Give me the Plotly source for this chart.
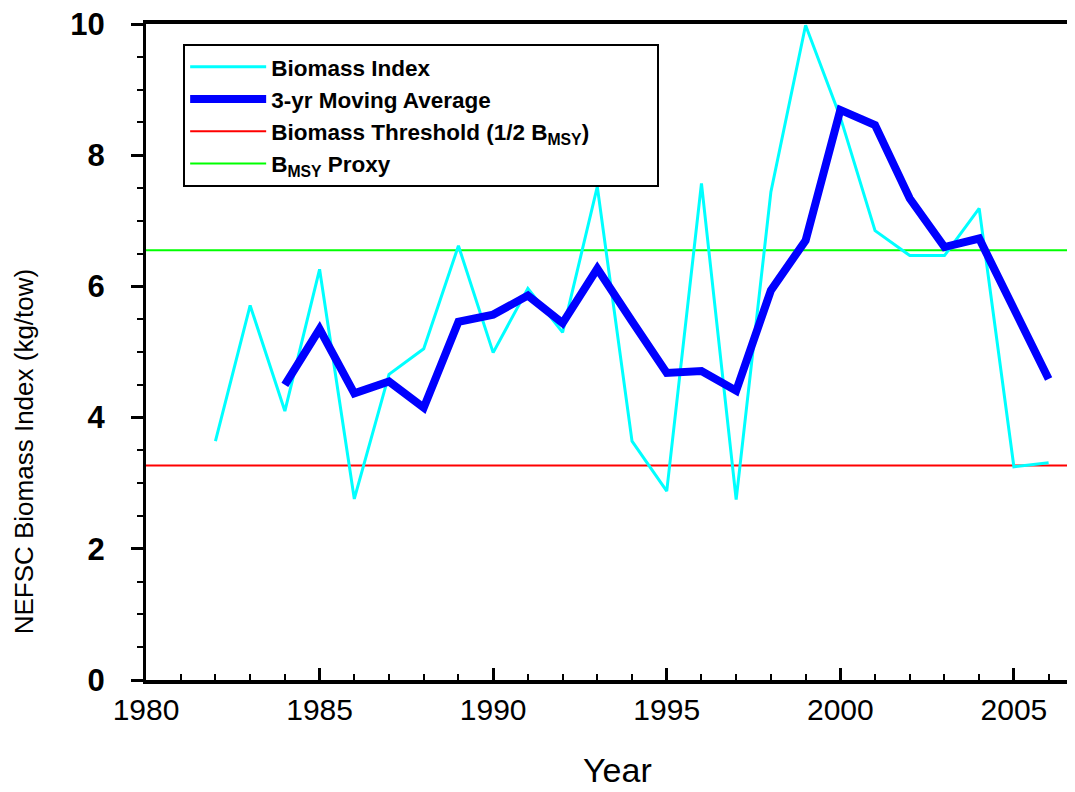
import plotly.graph_objects as go

# ---- data ----
index_years = list(range(1982, 2007))
biomass_index = [3.64, 5.71, 4.10, 6.26, 2.76, 4.66, 5.05, 6.62, 4.99, 5.97,
                 5.30, 7.52, 3.64, 2.88, 7.57, 2.75, 7.44, 9.98, 8.58, 6.85,
                 6.47, 6.47, 7.19, 3.25, 3.31]

ma_years = list(range(1984, 2007))
moving_avg = [4.50, 5.35, 4.37, 4.55, 4.15, 5.46, 5.57, 5.86, 5.44, 6.27,
              5.47, 4.68, 4.71, 4.41, 5.94, 6.70, 8.69, 8.46, 7.34, 6.60,
              6.73, 5.66, 4.59]

bmsy_proxy = 6.55
biomass_threshold = 3.27

x_range = [1980, 2006.76]
y_range = [0, 10]

FONT = "Liberation Sans, Arial, sans-serif"
PAD = "\u00a0" * 10  # widens the legend box like the reference

fig = go.Figure()

fig.add_trace(go.Scatter(
    x=x_range, y=[biomass_threshold, biomass_threshold], mode="lines",
    line=dict(color="#FF0000", width=2),
    name="Biomass Threshold (1/2 B<sub>MSY</sub>)" + PAD, legendrank=3))
fig.add_trace(go.Scatter(
    x=x_range, y=[bmsy_proxy, bmsy_proxy], mode="lines",
    line=dict(color="#00FF00", width=2),
    name="B<sub>MSY</sub> Proxy", legendrank=4))
fig.add_trace(go.Scatter(
    x=index_years, y=biomass_index, mode="lines",
    line=dict(color="#00FFFF", width=3),
    name="Biomass Index", legendrank=1))
fig.add_trace(go.Scatter(
    x=ma_years, y=moving_avg, mode="lines",
    line=dict(color="#0000FF", width=8),
    name="3-yr Moving Average", legendrank=2))

# page body has an 8px margin, so the figure is sized/offset to compensate
fig.update_layout(
    width=1067, height=784,
    margin=dict(l=138, r=0, t=16, b=112, autoexpand=False),
    plot_bgcolor="white", paper_bgcolor="white",
    font=dict(family=FONT, color="black"),
    showlegend=True,
    legend=dict(
        x=0.04, y=0.97, xanchor="left", yanchor="top",
        bgcolor="white", bordercolor="black", borderwidth=2,
        font=dict(family=FONT, size=22.5, color="black", weight="bold"),
        tracegroupgap=0, itemwidth=76,
    ),
    xaxis=dict(
        range=x_range, showgrid=False, zeroline=False, automargin=False,
        showline=True, linecolor="black", linewidth=4, mirror=True,
        tickmode="linear", tick0=1980, dtick=5,
        ticks="inside", ticklen=12, tickwidth=3, tickcolor="black",
        minor=dict(dtick=1, ticks="inside", ticklen=6, tickwidth=2, tickcolor="black"),
        tickfont=dict(family=FONT, size=30, color="black"),
        ticklabeloverflow="allow",
    ),
    yaxis=dict(
        range=y_range, showgrid=False, zeroline=False, automargin=False,
        showline=True, linecolor="black", linewidth=3, mirror=False,
        tickmode="linear", tick0=0, dtick=2,
        ticks="outside", ticklen=12, tickwidth=3, tickcolor="black",
        minor=dict(dtick=0.5, ticks="outside", ticklen=6, tickwidth=2, tickcolor="black"),
        tickfont=dict(family=FONT, size=31, color="black", weight="bold"),
        ticklabelstandoff=20,
        ticklabeloverflow="allow",
    ),
    annotations=[
        dict(
            text="NEFSC Biomass Index (kg/tow)", textangle=-90,
            xref="paper", yref="paper", x=-0.131, y=0.349,
            xanchor="center", yanchor="middle", showarrow=False,
            font=dict(family=FONT, size=26, color="black"),
        ),
        dict(
            text="Year",
            xref="paper", yref="paper", x=0.508, y=-0.137,
            xanchor="center", yanchor="middle", showarrow=False,
            font=dict(family=FONT, size=34, color="black"),
        ),
    ],
)

fig.write_html("out.html")
